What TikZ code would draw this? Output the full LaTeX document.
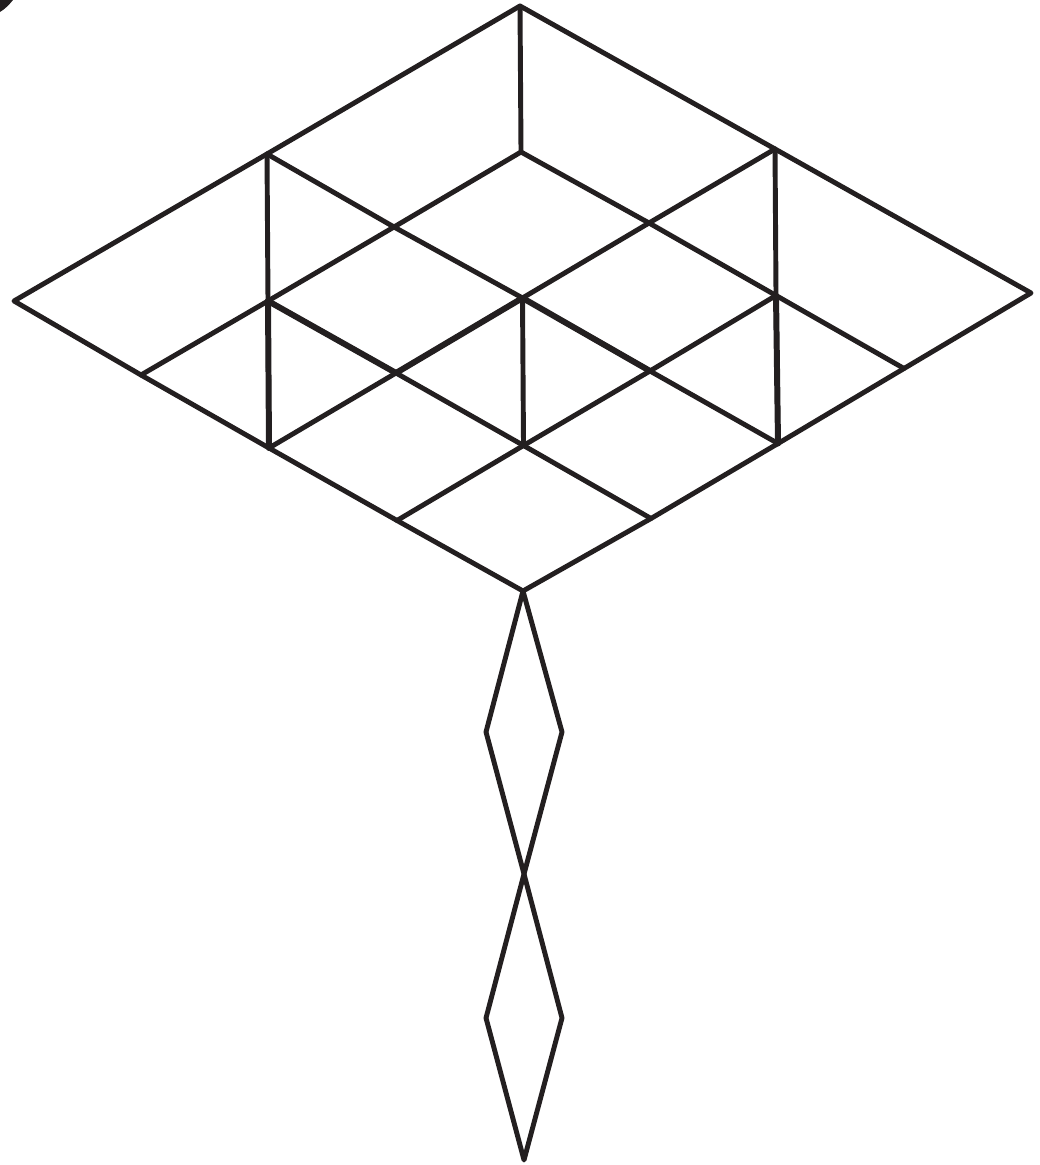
\documentclass[tikz,border=0pt]{standalone}
\usepackage{tikz}
\definecolor{GridInk}{HTML}{231F20}
\tikzset{gridline/.style={GridInk,line width=1.4pt,line join=round,line cap=round},
  heavyline/.style={gridline,line width=1.7pt}}

\begin{document}
\begin{tikzpicture}[x=0.01cm,y=-0.01cm]
      \useasboundingbox (0,0) rectangle (1039,1165);
      % corners of the sheet
      \coordinate (top) at (520,6);
      \coordinate (left) at (14,301);
      \coordinate (right) at (1031,293);
      \coordinate (bottom) at (523,591);
      % crossings of the grid
      \coordinate (a) at (267,154);
      \coordinate (b) at (521,152);
      \coordinate (c) at (775,149);
      \coordinate (d) at (394,227);
      \coordinate (e) at (649,223);
      \coordinate (f) at (268,301);
      \coordinate (g) at (522.5,298);
      \coordinate (h) at (776,295.5);
      \coordinate (i) at (141,375);
      \coordinate (j) at (396,373);
      \coordinate (k) at (650,371);
      \coordinate (l) at (904,368.5);
      \coordinate (m) at (269,448);
      \coordinate (n) at (523.5,445.5);
      \coordinate (o) at (778,443.5);
      \coordinate (p) at (397,520.5);
      \coordinate (q) at (651,518.5);
      % tail of the two rhombi
      \coordinate (waist) at (524,874);
      \coordinate (tip) at (524,1160);
      \coordinate (r1) at (562,732);
      \coordinate (l1) at (486,732);
      \coordinate (r2) at (562,1018);
      \coordinate (l2) at (486,1018);
      \fill[GridInk] (0,0) -- (13,0) .. controls (9,5) and (5,9) .. (0,12) -- cycle;
      \draw[gridline] (top) -- (a) -- (left) -- (i) -- (m) -- (p) -- (bottom) -- (q) -- (o) -- (l) -- (right) -- (c) -- cycle;
      \draw[gridline] (a) -- (d) -- (g) -- (k) -- (o);
      \draw[gridline] (b) -- (e) -- (h) -- (l);
      \draw[gridline] (f) -- (j) -- (n) -- (q);
      \draw[gridline] (i) -- (f) -- (d) -- (b);
      \draw[gridline] (m) -- (j) -- (g) -- (e) -- (c);
      \draw[gridline] (p) -- (n) -- (k) -- (h);
      \foreach \u/\v in {top/b,a/f,f/m,g/n,c/h,h/o}
        \draw[gridline] (\u) -- (\v);
      \foreach \u/\v in {f/j,g/k,j/g,m/f,h/o}
        \draw[heavyline] (\u) -- (\v);
      \draw[gridline] (bottom) -- (r1) -- (waist) -- (l1) -- cycle;
      \draw[gridline] (waist) -- (r2) -- (tip) -- (l2) -- cycle;
    \end{tikzpicture}
\end{document}
